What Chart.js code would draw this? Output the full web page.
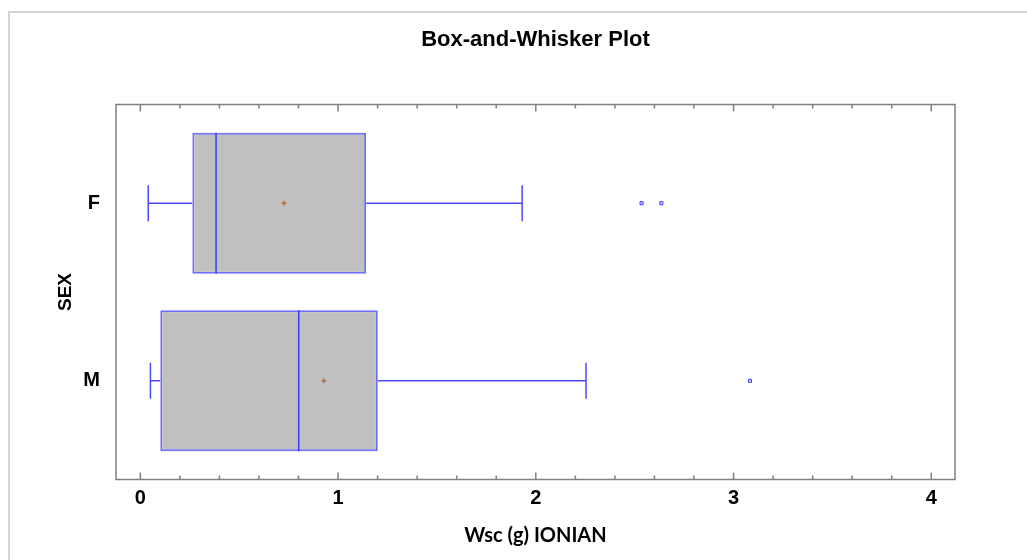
<!DOCTYPE html>
<html>
<head>
<meta charset="utf-8">
<script src="https://cdn.jsdelivr.net/npm/chart.js@4.4.1/dist/chart.umd.min.js"></script>
<style>
  html, body { margin: 0; padding: 0; background: #fff; }
  #wrap { width: 1027px; height: 560px; position: relative; }
</style>
</head>
<body>
<div id="wrap"><canvas id="boxChart"></canvas></div>
<script>
// values
const categories = ['F', 'M'];
const lowWhisker = [0.04, 0.051];
const q1 = [0.263, 0.101];
const median = [0.383, 0.801];
const q3 = [1.142, 1.201];
const highWhisker = [1.931, 2.254];
const means = [0.727, 0.928];
const outliers = [[2.535, 2.635], [3.083]];
const xTicks = [0, 1, 2, 3, 4];

const boxData = categories.map((c, i) => ({ x: [q1[i], q3[i]], y: i }));
const meanData = categories.map((c, i) => ({ x: means[i], y: i }));
const outlierData = [];
outliers.forEach((list, i) => list.forEach(v => outlierData.push({ x: v, y: i })));

const boxExtras = {
  id: 'boxExtras',
  beforeDraw(chart) {
    const ctx = chart.ctx;
    ctx.save();
    ctx.strokeStyle = '#d4d4d4';
    ctx.lineWidth = 2;
    ctx.beginPath();
    ctx.moveTo(9, 560);
    ctx.lineTo(9, 12);
    ctx.lineTo(1027, 12);
    ctx.stroke();
    ctx.restore();
  },
  afterDatasetsDraw(chart) {
    const ctx = chart.ctx;
    const xs = chart.scales.x;
    const meta = chart.getDatasetMeta(0);
    ctx.save();
    categories.forEach((c, i) => {
      const bar = meta.data[i];
      const { y, height } = bar.getProps(['y', 'height'], true);
      const half = height / 2;
      const cap = 18;
      const xl = xs.getPixelForValue(lowWhisker[i]);
      const x1 = xs.getPixelForValue(q1[i]);
      const xm = xs.getPixelForValue(median[i]);
      const x3 = xs.getPixelForValue(q3[i]);
      const xh = xs.getPixelForValue(highWhisker[i]);
      ctx.strokeStyle = '#4b4bff';
      ctx.lineWidth = 1.5;
      ctx.beginPath();
      ctx.moveTo(xl, y); ctx.lineTo(x1, y);
      ctx.moveTo(x3, y); ctx.lineTo(xh, y);
      ctx.moveTo(xl, y - cap); ctx.lineTo(xl, y + cap);
      ctx.moveTo(xh, y - cap); ctx.lineTo(xh, y + cap);
      ctx.stroke();
      ctx.strokeStyle = '#3a3aff';
      ctx.beginPath();
      ctx.moveTo(xm, y - half); ctx.lineTo(xm, y + half);
      ctx.stroke();
    });
    ctx.restore();
  },
  afterDraw(chart) {
    const ctx = chart.ctx;
    const a = chart.chartArea;
    const xs = chart.scales.x;
    ctx.save();
    ctx.strokeStyle = '#808080';
    ctx.lineWidth = 1.5;
    ctx.strokeRect(a.left, a.top, a.right - a.left, a.bottom - a.top);
    ctx.beginPath();
    for (let k = 0; k < xTicks.length; k++) {
      for (let m = 0; m < 5; m++) {
        if (k === xTicks.length - 1 && m > 0) break;
        const v = xTicks[k] + m * 0.2;
        const px = xs.getPixelForValue(v);
        const len = m === 0 ? 7 : 4;
        ctx.moveTo(px, a.bottom); ctx.lineTo(px, a.bottom - len);
        ctx.moveTo(px, a.top); ctx.lineTo(px, a.top + len);
      }
    }
    ctx.stroke();
    ctx.restore();
  }
};

new Chart(document.getElementById('boxChart'), {
  type: 'bar',
  data: {
    datasets: [
      {
        type: 'bar',
        order: 3,
        data: boxData,
        backgroundColor: '#c0c0c0',
        borderColor: '#6e6eff',
        borderWidth: 2,
        borderSkipped: false,
        categoryPercentage: 1,
        barPercentage: 0.795
      },
      {
        type: 'scatter',
        order: 1,
        data: meanData,
        pointStyle: 'cross',
        radius: 2.5,
        borderColor: '#b0602a',
        borderWidth: 1.2
      },
      {
        type: 'scatter',
        order: 1,
        data: outlierData,
        pointStyle: 'rect',
        radius: 2.2,
        backgroundColor: '#d0d0ff',
        borderColor: '#4040ff',
        borderWidth: 1
      }
    ]
  },
  options: {
    indexAxis: 'y',
    responsive: true,
    maintainAspectRatio: false,
    animation: false,
    layout: { padding: { left: 0, right: 72, top: 0, bottom: 0 } },
    plugins: {
      legend: { display: false },
      tooltip: { enabled: false },
      title: {
        display: true,
        fullSize: false,
        text: 'Box-and-Whisker Plot',
        color: '#000',
        font: { family: 'Liberation Sans', size: 22, weight: 'bold' },
        padding: { top: 26.8, bottom: 51.3 }
      }
    },
    scales: {
      x: {
        type: 'linear',
        offset: false,
        min: -0.123,
        max: 4.12,
        afterBuildTicks: s => { s.ticks = xTicks.map(v => ({ value: v })); },
        afterFit: s => { s.height = 80.5; },
        grid: { display: false, drawTicks: false, offset: false },
        border: { display: false },
        ticks: {
          color: '#000',
          padding: 7,
          font: { family: 'Liberation Sans', size: 20, weight: 'bold' }
        },
        title: {
          display: true,
          text: 'Wsc (g) IONIAN',
          color: '#000',
          font: { family: 'Lato', size: 20, weight: 'bold' },
          padding: { top: 0, bottom: 12 }
        }
      },
      y: {
        type: 'linear',
        offset: false,
        reverse: true,
        min: -0.556,
        max: 1.556,
        afterBuildTicks: s => { s.ticks = categories.map((c, i) => ({ value: i })); },
        afterFit: s => { s.width = 116; },
        grid: { display: false, drawTicks: false, offset: false },
        border: { display: false },
        ticks: {
          color: '#000',
          padding: 16,
          callback: v => categories[v],
          font: { family: 'Liberation Sans', size: 20, weight: 'bold' }
        },
        title: {
          display: true,
          text: 'SEX',
          color: '#000',
          font: { family: 'Liberation Sans', size: 19, weight: 'bold' },
          padding: { top: 54, bottom: 0 }
        }
      }
    }
  },
  plugins: [boxExtras]
});
</script>
</body>
</html>
